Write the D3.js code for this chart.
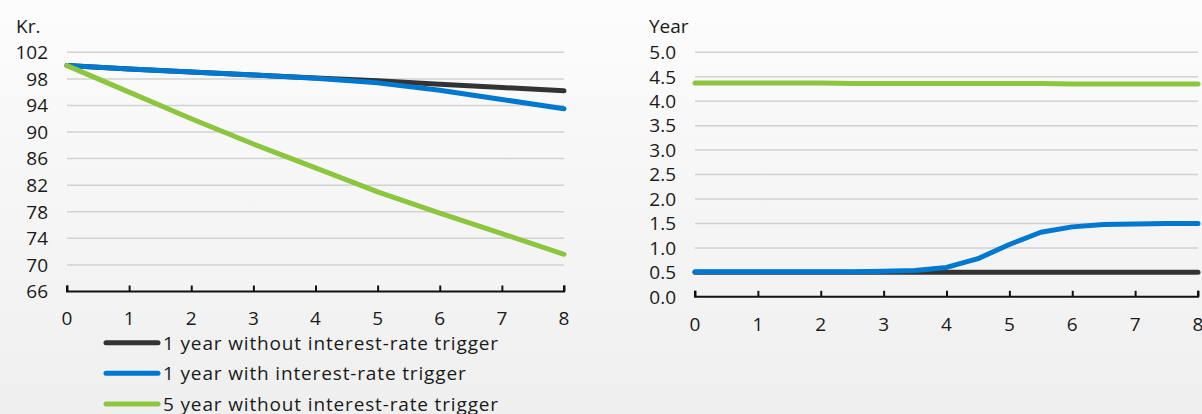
<!DOCTYPE html>
<html>
<head>
<meta charset="utf-8">
<script src="https://cdn.jsdelivr.net/npm/d3@7"></script>
<style>
  html, body { margin: 0; padding: 0; }
  body { width: 1202px; height: 414px; overflow: hidden; }
  svg text { font-family: "Open Sans", "Noto Sans", sans-serif; fill: #1a1a1a; }
</style>
</head>
<body>
<svg id="chart" width="1202" height="414"></svg>
<script>
// Left panel: price in kr., yearly points
const priceYears = [0, 1, 2, 3, 4, 5, 6, 7, 8];
const price1yNoTrigger = [100, 99.5, 99.05, 98.6, 98.15, 97.7, 97.2, 96.7, 96.2];
const price1yTrigger   = [100, 99.5, 99.05, 98.6, 98.1, 97.4, 96.3, 94.9, 93.5];
const price5yNoTrigger = [100, 96.0, 92.0, 88.2, 84.6, 81.0, 77.8, 74.7, 71.6];
const priceTicks = [66, 70, 74, 78, 82, 86, 90, 94, 98, 102];

// Right panel: duration in years, half-yearly points
const durYears = [0, 0.5, 1, 1.5, 2, 2.5, 3, 3.5, 4, 4.5, 5, 5.5, 6, 6.5, 7, 7.5, 8];
const dur1yNoTrigger = [0.5, 0.5, 0.5, 0.5, 0.5, 0.5, 0.5, 0.5, 0.5, 0.5, 0.5, 0.5, 0.5, 0.5, 0.5, 0.5, 0.5];
const dur1yTrigger   = [0.51, 0.51, 0.51, 0.51, 0.51, 0.51, 0.52, 0.54, 0.6, 0.78, 1.07, 1.32, 1.43, 1.48, 1.49, 1.5, 1.5];
const dur5yNoTrigger = [4.37, 4.37, 4.37, 4.37, 4.37, 4.36, 4.36, 4.36, 4.36, 4.36, 4.36, 4.36, 4.35, 4.35, 4.35, 4.35, 4.35];
const durTicks = [0, 0.5, 1, 1.5, 2, 2.5, 3, 3.5, 4, 4.5, 5];

const xTicks = [0, 1, 2, 3, 4, 5, 6, 7, 8];
const seriesNames = [
  "1 year without interest-rate trigger",
  "1 year with interest-rate trigger",
  "5 year without interest-rate trigger"
];
const seriesColors = ["#333333", "#0078d0", "#8cc63f"];

const FONT_SIZE = 19;
const svg = d3.select("#chart");

// background with a soft vertical fade
const defs = svg.append("defs");
const grad = defs.append("linearGradient").attr("id", "bg").attr("x1", 0).attr("y1", 0).attr("x2", 0).attr("y2", 1);
grad.append("stop").attr("offset", "0%").attr("stop-color", "#fcfcfc");
grad.append("stop").attr("offset", "100%").attr("stop-color", "#efefef");
svg.append("rect").attr("width", 1202).attr("height", 414).attr("fill", "url(#bg)");

function panel(opts) {
  const x = d3.scaleLinear().domain([0, 8]).range(opts.xRange);
  const y = d3.scaleLinear().domain(opts.yDomain).range(opts.yRange);
  const g = svg.append("g");

  // gridlines (skip the baseline)
  g.append("g").selectAll("line")
    .data(opts.yTicks.slice(1))
    .join("line")
    .attr("x1", opts.xRange[0]).attr("x2", opts.xRange[1])
    .attr("y1", d => y(d)).attr("y2", d => y(d))
    .attr("stroke", "#d2d2d2").attr("stroke-width", 1.5);

  // y tick labels
  g.append("g").selectAll("text")
    .data(opts.yTicks)
    .join("text")
    .attr("x", opts.labelX)
    .attr("y", d => y(d))
    .attr("dy", "0.36em")
    .attr("text-anchor", "end")
    .attr("font-size", FONT_SIZE)
    .text(opts.fmt);

  // unit label
  g.append("text")
    .attr("x", opts.unitX).attr("y", 26).attr("dy", "0.36em")
    .attr("font-size", FONT_SIZE)
    .text(opts.unit);

  // x axis with inward ticks
  const axis = d3.axisBottom(x).tickValues(xTicks).tickSize(-6).tickPadding(0).tickFormat("");
  const ax = g.append("g").attr("transform", `translate(0,${y(opts.yDomain[0])})`).call(axis);
  ax.select(".domain").attr("stroke", "#111").attr("stroke-width", 2).attr("d",
    `M${opts.xRange[0]},-6V0H${opts.xRange[1]}V-6`);
  ax.selectAll(".tick line").attr("stroke", "#111").attr("stroke-width", 2);

  g.append("g").selectAll("text")
    .data(xTicks)
    .join("text")
    .attr("x", d => x(d))
    .attr("y", y(opts.yDomain[0]) + 27)
    .attr("dy", "0.36em")
    .attr("text-anchor", "middle")
    .attr("font-size", FONT_SIZE)
    .text(d => d);

  // series lines
  const line = d3.line().x(d => x(d[0])).y(d => y(d[1]));
  opts.series.forEach((vals, i) => {
    g.append("path")
      .datum(opts.xs.map((xv, j) => [xv, vals[j]]))
      .attr("d", line)
      .attr("fill", "none")
      .attr("stroke", seriesColors[i])
      .attr("stroke-width", 5)
      .attr("stroke-linecap", "round")
      .attr("stroke-linejoin", "round");
  });
}

panel({
  xRange: [67, 564], yDomain: [66, 102], yRange: [291.5, 52.3],
  yTicks: priceTicks, fmt: d => d, labelX: 48, unit: "Kr.", unitX: 16,
  xs: priceYears,
  series: [price1yNoTrigger, price1yTrigger, price5yNoTrigger]
});

panel({
  xRange: [695, 1198], yDomain: [0, 5], yRange: [296.8, 52.3],
  yTicks: durTicks, fmt: d3.format(".1f"), labelX: 676, unit: "Year", unitX: 649,
  xs: durYears,
  series: [dur1yNoTrigger, dur1yTrigger, dur5yNoTrigger]
});

// legend
const legend = svg.append("g");
seriesNames.forEach((name, i) => {
  const cy = 342.7 + i * 30.6;
  legend.append("line")
    .attr("x1", 106).attr("x2", 158).attr("y1", cy).attr("y2", cy)
    .attr("stroke", seriesColors[i]).attr("stroke-width", 5).attr("stroke-linecap", "round");
  legend.append("text")
    .attr("x", 163).attr("y", cy).attr("dy", "0.36em")
    .attr("font-size", FONT_SIZE)
    .attr("letter-spacing", 0.85)
    .text(name);
});
</script>
</body>
</html>
